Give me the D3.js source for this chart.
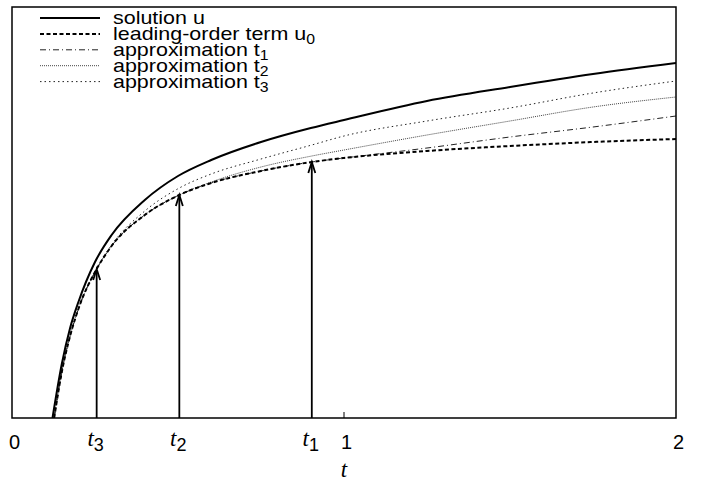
<!DOCTYPE html>
<html><head><meta charset="utf-8">
<script src="https://cdn.jsdelivr.net/npm/d3@7"></script>
<style>body{margin:0;background:#fff}svg{display:block}</style>
</head><body>
<svg id="c" width="702" height="484"></svg>
<script>
// ---- data ----
const tGrid = [0.127,0.15,0.175,0.2,0.255,0.3,0.4,0.504,0.6,0.75,0.903,1.0,1.25,1.5,1.75,2.0];
const leadingOrder = [0,0.46,0.82,1.09,1.49,1.72,2.03,2.23,2.35,2.47,2.56,2.60,2.67,2.72,2.76,2.79];
const approxT1 =     [0,0.46,0.82,1.09,1.49,1.72,2.03,2.23,2.35,2.47,2.56,2.60,2.70,2.81,2.91,3.02];
const approxT2 =     [0,0.46,0.82,1.09,1.49,1.72,2.03,2.23,2.36,2.51,2.62,2.68,2.83,2.97,3.11,3.21];
const approxT3 =     [0,0.46,0.82,1.09,1.49,1.73,2.07,2.30,2.44,2.59,2.73,2.82,2.97,3.10,3.25,3.37];
const tSolution = [0.122,0.15,0.175,0.2,0.25,0.3,0.4,0.5,0.6,0.75,0.9,1.0,1.25,1.5,1.75,2.0];
const solution =  [0,0.54,0.90,1.16,1.56,1.83,2.18,2.42,2.58,2.76,2.90,2.98,3.17,3.31,3.44,3.55];
const arrowTimes = [0.903,0.504,0.255];
const arrowValues = [2.56,2.23,1.49];
const arrowSubs = ["1","2","3"];
const xTickValues = [0,1,2];
const legendLabels = ["solution u","leading-order term u","approximation t","approximation t","approximation t"];
const legendSubs = ["","0","1","2","3"];

// ---- layout ----
const svg = d3.select("#c");
const x = d3.scaleLinear().domain([0,2]).range([12,676]);
const y = d3.scaleLinear().domain([0,4.11]).range([418,7]);

svg.append("defs").append("clipPath").attr("id","clip")
  .append("rect").attr("x",12).attr("y",7).attr("width",664).attr("height",411);

const styles = [
  {w:2,   dash:null,      col:"#000"},
  {w:2,   dash:"4,2.5",   col:"#000"},
  {w:1,   dash:"6,3,1,3", col:"#222"},
  {w:1,   dash:"1,1",     col:"#444"},
  {w:1,   dash:"1.5,3",   col:"#222"}
];

const line = d3.line().x(d=>x(d[0])).y(d=>y(d[1])).curve(d3.curveMonotoneX);
const series = [
  d3.zip(tSolution, solution),
  d3.zip(tGrid, leadingOrder),
  d3.zip(tGrid, approxT1),
  d3.zip(tGrid, approxT2),
  d3.zip(tGrid, approxT3)
];
const g = svg.append("g").attr("clip-path","url(#clip)");
[4,3,2,1,0].forEach(i=>{
  g.append("path").datum(series[i]).attr("d",line)
    .attr("fill","none").attr("stroke",styles[i].col).attr("stroke-width",styles[i].w)
    .attr("stroke-dasharray",styles[i].dash);
});

// arrows
arrowTimes.forEach((t,i)=>{
  const ax = x(t), y0 = y(0), yt = y(arrowValues[i]);
  svg.append("line").attr("x1",ax).attr("x2",ax).attr("y1",y0).attr("y2",yt+1)
    .attr("stroke","#000").attr("stroke-width",1.8);
  svg.append("path").attr("d",`M${ax-3.5},${yt+11}L${ax},${yt}L${ax+3.5},${yt+11}`)
    .attr("fill","none").attr("stroke","#000").attr("stroke-width",1.8);
});

// frame
svg.append("rect").attr("x",12).attr("y",7).attr("width",664).attr("height",411)
  .attr("fill","none").attr("stroke","#000").attr("stroke-width",1.5);

// x axis ticks
const xAxis = d3.axisBottom(x).tickValues(xTickValues).tickSize(0).tickFormat(d3.format("d"));
const ax = svg.append("g").attr("transform","translate(0,418)").call(xAxis);
ax.select(".domain").remove();
ax.selectAll("text").attr("font-family","Liberation Sans, Arial, sans-serif")
  .attr("font-size",20).attr("fill","#000").attr("dy","1.4em").attr("dx",2);
svg.append("line").attr("x1",x(1)).attr("x2",x(1)).attr("y1",418).attr("y2",412)
  .attr("stroke","#000").attr("stroke-width",1);

// t_i labels
arrowTimes.forEach((t,i)=>{
  const tx = svg.append("text").attr("x",x(t)-1).attr("y",446).attr("text-anchor","middle");
  tx.append("tspan").text("t").attr("font-family","Liberation Serif, serif")
    .attr("font-style","italic").attr("font-size",23);
  tx.append("tspan").text(arrowSubs[i]).attr("font-family","Liberation Sans, Arial, sans-serif")
    .attr("font-size",18).attr("dy",5);
});
svg.append("text").attr("x",x(1)).attr("y",477).attr("text-anchor","middle")
  .attr("font-family","Liberation Serif, serif").attr("font-style","italic").attr("font-size",23).text("t");

// legend
legendLabels.forEach((lab,i)=>{
  const cy = 18 + 15.9*i;
  svg.append("line").attr("x1",40).attr("x2",100).attr("y1",cy).attr("y2",cy)
    .attr("stroke",styles[i].col).attr("stroke-width",styles[i].w).attr("stroke-dasharray",styles[i].dash);
  const tx = svg.append("text").attr("transform",`translate(113,${cy+6}) scale(1.13,1)`)
    .attr("font-family","Liberation Sans, Arial, sans-serif").attr("font-size",19);
  tx.append("tspan").text(lab);
  if (legendSubs[i]) tx.append("tspan").text(legendSubs[i]).attr("font-size",14).attr("dy",4);
});
</script>
</body></html>
